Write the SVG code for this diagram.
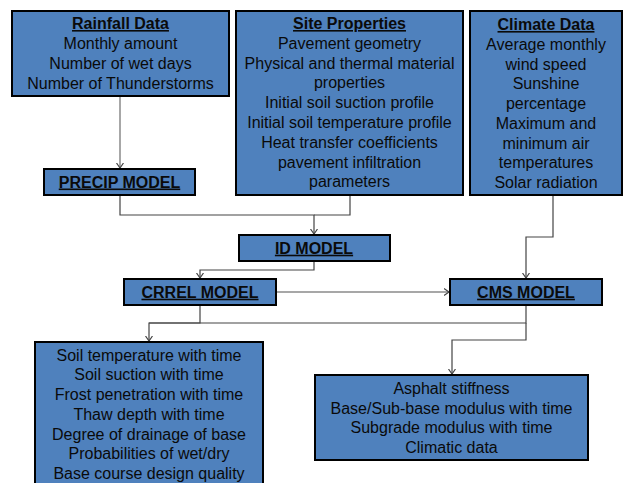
<svg xmlns="http://www.w3.org/2000/svg" width="624" height="483" viewBox="0 0 624 483">
<defs>
<style>
.box{fill:#4f81bd;stroke:#000;stroke-width:2}
.t{font-family:"Liberation Sans",Arial,sans-serif;font-size:16px;fill:#0a0a0a;text-anchor:middle}
.h{font-weight:bold;text-decoration:underline}
.c{fill:none;stroke:#444;stroke-width:1.2}
.c2{fill:none;stroke:#8a8a8a;stroke-width:1.5}
</style>
<marker id="ah" markerUnits="userSpaceOnUse" markerWidth="10" markerHeight="10" refX="5" refY="4" orient="auto" viewBox="0 0 10 8">
<path d="M0,0.5 L5,4 L0,7.5" fill="none" stroke="#444" stroke-width="1.2"/>
</marker>
</defs>
<rect width="624" height="483" fill="#fff"/>
<g id="connectors">
<path class="c2" d="M120,97 V168" marker-end="url(#ah)"/>
<path class="c" d="M120,196 V215 H314 V234" marker-end="url(#ah)"/>
<path class="c" d="M350,196 V215 H314"/>
<path class="c" d="M314,262 V270 H200 V278" marker-end="url(#ah)"/>
<path class="c2" d="M277,292 H449" marker-end="url(#ah)"/>
<path class="c" d="M553,196 V237 H526 V278" marker-end="url(#ah)"/>
<path class="c" d="M200,306 V323 H149 V341" marker-end="url(#ah)"/>
<path class="c" d="M526,306 V323 H149"/>
<path class="c" d="M526,323 V340 H452 V374" marker-end="url(#ah)"/>
</g>
<g id="rainfall">
<rect class="box" x="12" y="11" width="217" height="85"/>
<text class="t h" x="120.5" y="29">Rainfall Data</text>
<text class="t" x="120.5" y="49">Monthly amount</text>
<text class="t" x="120.5" y="69">Number of wet days</text>
<text class="t" x="120.5" y="89">Number of Thunderstorms</text>
</g>
<g id="site">
<rect class="box" x="236" y="11" width="227" height="184"/>
<text class="t h" x="349.5" y="29">Site Properties</text>
<text class="t" x="349.5" y="48.8">Pavement geometry</text>
<text class="t" x="349.5" y="68.6">Physical and thermal material</text>
<text class="t" x="349.5" y="88.4">properties</text>
<text class="t" x="349.5" y="108.2">Initial soil suction profile</text>
<text class="t" x="349.5" y="128">Initial soil temperature profile</text>
<text class="t" x="349.5" y="147.8">Heat transfer coefficients</text>
<text class="t" x="349.5" y="167.6">pavement infiltration</text>
<text class="t" x="349.5" y="187.4">parameters</text>
</g>
<g id="climate">
<rect class="box" x="470" y="11" width="152" height="184"/>
<text class="t h" x="546" y="30">Climate Data</text>
<text class="t" x="546" y="50">Average monthly</text>
<text class="t" x="546" y="69.7">wind speed</text>
<text class="t" x="546" y="89.4">Sunshine</text>
<text class="t" x="546" y="109.1">percentage</text>
<text class="t" x="546" y="128.8">Maximum and</text>
<text class="t" x="546" y="148.5">minimum air</text>
<text class="t" x="546" y="168.2">temperatures</text>
<text class="t" x="546" y="187.9">Solar radiation</text>
</g>
<g id="precip">
<rect class="box" x="44" y="169" width="151" height="26"/>
<text class="t h" x="119.5" y="187.5">PRECIP MODEL</text>
</g>
<g id="id-model">
<rect class="box" x="239" y="235" width="151" height="26"/>
<text class="t h" x="314" y="253.7">ID MODEL</text>
</g>
<g id="crrel">
<rect class="box" x="124" y="279" width="152" height="26"/>
<text class="t h" x="200" y="297.7">CRREL MODEL</text>
</g>
<g id="cms">
<rect class="box" x="450" y="279" width="152" height="26"/>
<text class="t h" x="526" y="297.7">CMS MODEL</text>
</g>
<g id="crrel-output">
<rect class="box" x="35" y="342" width="228" height="150"/>
<text class="t" x="149" y="360.7">Soil temperature with time</text>
<text class="t" x="149" y="380.4">Soil suction with time</text>
<text class="t" x="149" y="400.1">Frost penetration with time</text>
<text class="t" x="149" y="419.8">Thaw depth with time</text>
<text class="t" x="149" y="439.5">Degree of drainage of base</text>
<text class="t" x="149" y="459.2">Probabilities of wet/dry</text>
<text class="t" x="149" y="478.9">Base course design quality</text>
</g>
<g id="cms-output">
<rect class="box" x="315" y="375" width="273" height="85"/>
<text class="t" x="451.5" y="394.3">Asphalt stiffness</text>
<text class="t" x="451.5" y="413.8">Base/Sub-base modulus with time</text>
<text class="t" x="451.5" y="433.3">Subgrade modulus with time</text>
<text class="t" x="451.5" y="452.8">Climatic data</text>
</g>
</svg>
